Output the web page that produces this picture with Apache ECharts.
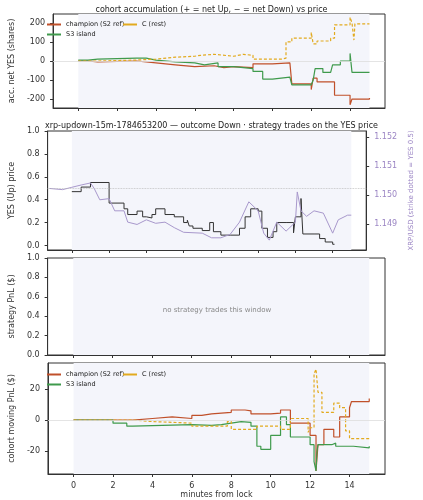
<!DOCTYPE html>
<html><head><meta charset="utf-8">
<script src="https://cdn.jsdelivr.net/npm/echarts@6/dist/echarts.min.js"></script>
<style>html,body{margin:0;background:#fff}#c{width:423px;height:500px}</style>
</head><body><div id="c"></div>
<script>
// panel 1: cumulative net YES shares [minute, shares]
const accChampion = [[0,0],[0.5,-5],[1,0],[3,-10],[4,-20],[5,-30],[6,-25],[7,-35],[7.5,-30],[8,-35],[9,-15],[10,-10],[10.9,-10],[11,-120],[12,-150],[12.1,-90],[12.3,-110],[13,-110],[13.2,-180],[14,-230],[14.1,-200],[15,-195]];
const accIsland = [[0,5],[0.5,10],[1,15],[3,15],[3.5,5],[4,-5],[5,-10],[6,-20],[6.5,-10],[7.2,-30],[8,-40],[9,-55],[9.5,-95],[10,-85],[10.9,-85],[11,-125],[12,-125],[12.1,-100],[12.2,-40],[12.6,-60],[13,-60],[13.1,-20],[13.5,0],[14,40],[14.1,-60],[15,-60]];
const accRest = [[0,0],[1,5],[3,10],[4,20],[5,25],[6,30],[6.3,35],[7,25],[8,35],[8.5,30],[9,10],[10,10],[10.5,15],[10.7,100],[11,120],[12,150],[12.1,90],[12.3,105],[13,120],[13.2,190],[14,230],[14.1,200],[14.2,110],[14.25,195],[15,195]];
// panel 2: YES (Up) price steps and XRP/USD
const yesPrice = [[0,0.47],[0.5,0.51],[1,0.55],[2,0.37],[2.8,0.32],[3,0.27],[3.5,0.30],[3.8,0.25],[4,0.24],[4.3,0.27],[4.5,0.32],[5,0.27],[5.5,0.25],[6,0.2],[6.2,0.22],[6.3,0.17],[6.5,0.15],[7,0.13],[7.4,0.2],[7.6,0.12],[8,0.09],[8.5,0.09],[9,0.15],[9.3,0.25],[9.6,0.32],[10,0.3],[10.2,0.15],[10.5,0.07],[10.8,0.12],[11,0.2],[11.5,0.2],[11.9,0.11],[12,0.25],[12.3,0.41],[12.4,0.1],[13,0.1],[13.3,0.06],[13.6,0.03],[14,0.01],[14.1,0.01]];
const xrpUsd = [[-1.2,1.15022],[-0.5,1.15018],[0,1.15026],[0.5,1.15034],[1,1.15041],[1.2,1.15022],[1.5,1.14983],[2,1.14987],[2.3,1.14945],[2.8,1.14945],[3,1.14906],[3.5,1.14898],[4,1.14914],[4.5,1.14902],[5,1.14906],[5.5,1.14887],[6,1.14871],[7,1.14868],[7.5,1.14852],[8,1.14852],[8.5,1.14864],[9,1.14906],[9.5,1.14976],[10,1.14945],[10.3,1.14868],[10.6,1.14844],[11,1.14906],[11.5,1.14875],[12,1.14906],[12.1,1.1501],[12.3,1.14945],[12.6,1.14926],[13,1.14945],[13.5,1.14937],[14,1.14868],[14.3,1.14914],[14.8,1.1493],[15,1.1493]];
// panel 4: moving PnL ($)
const pnlChampion = [[0,0],[2,0],[3,1],[4,2],[5,1],[6,3],[6.5,4],[7,4.5],[7.5,5],[8,6.5],[8.7,6],[9,4],[10,4.5],[10.5,6.5],[11,-2],[12,-10],[12.3,-33],[12.4,-16],[12.7,-6],[13.2,-11],[13.5,2],[14,8],[14.1,12],[15,14]];
const pnlIsland = [[0,0],[2,-2],[2.7,-4],[3,-3],[6,-3.5],[7,-3],[7.5,-2],[8,-1],[8.5,-1.5],[9,-4],[9.3,-17],[9.5,-19],[10,-10],[10.5,2],[10.8,-3],[11,-11],[12,-16],[12.2,-27],[12.3,-33],[12.35,-20],[12.4,-16],[13.1,-15],[13.3,-17],[14.2,-18],[15,-17]];
const pnlRest = [[0,0],[2,0],[3,-1],[4,-2],[6,-4],[7.8,-1],[8,-6],[9.3,-4],[10.5,-6],[11,1],[11.9,-8],[12,-5],[12.2,30],[12.3,33],[12.4,18],[12.6,5],[13.2,11],[13.5,8],[13.8,-7],[14,-12],[15,-13]];
const xTicks = [0,2,4,6,8,10,12,14];

const RED = '#c0502a', GREEN = '#3f9a4c', GOLD = '#e2aa1e', FONT = 'DejaVu Sans';
const yRanges = [[-247,247],[-0.04,1.0],[0,1],[-35,37]];
const grids = [
  {left:38, right:38, top:14, height:94},
  {left:38, right:38, top:131, height:119},
  {left:38, right:38, top:258, height:97},
  {left:38, right:38, top:363, height:111}
];
const xAxes = grids.map((g, i) => ({
  type:'value', gridIndex:i, min:-1.3, max:15.8,
  axisLine:{onZero:false, lineStyle:{color:'#333'}},
  axisTick:{customValues:xTicks, length:3},
  axisLabel:{show:i===3, customValues:xTicks, fontSize:8, color:'#333', fontFamily:FONT},
  splitLine:{show:false},
  name:i===3?'minutes from lock':'', nameLocation:'middle', nameGap:14,
  nameTextStyle:{fontSize:8, color:'#333', fontFamily:FONT}
}));
function yAx(i, min, max, ticks, name, extra) {
  return Object.assign({
    type:'value', gridIndex:i, min, max, name, nameLocation:'middle', nameGap:22,
    nameTextStyle:{fontSize:8, color:'#333', fontFamily:FONT},
    axisLine:{show:true, onZero:false, lineStyle:{color:'#333'}},
    axisTick:{show:true, customValues:ticks, length:3},
    axisLabel:{customValues:ticks, fontSize:8, color:'#333', fontFamily:FONT},
    splitLine:{show:false}
  }, extra || {});
}
const fr1 = {customValues:[0,0.2,0.4,0.6,0.8,1.0], fontSize:8, color:'#333', fontFamily:FONT, formatter:v=>v.toFixed(1)};
const yAxes = [
  yAx(0, -247, 247, [-200,-100,0,100,200], 'acc. net YES (shares)'),
  yAx(1, -0.04, 1.0, [0,0.2,0.4,0.6,0.8,1.0], 'YES (Up) price', {axisLabel:fr1}),
  yAx(1, 1.1481, 1.1522, [1.149,1.150,1.151,1.152], 'XRP/USD (strike dotted = YES 0.5)', {
    position:'right', nameGap:34, nameTextStyle:{fontSize:7, color:'#9b85c4', fontFamily:FONT},
    axisLabel:{customValues:[1.149,1.150,1.151,1.152], fontSize:8, color:'#9b85c4', fontFamily:FONT, formatter:v=>v.toFixed(3)}}),
  yAx(2, 0, 1, [0,0.2,0.4,0.6,0.8,1.0], 'strategy PnL ($)', {axisLabel:fr1}),
  yAx(3, -35, 37, [-20,0,20], 'cohort moving PnL ($)')
];
function line(name, data, x, y, color, dashed, extra) {
  return Object.assign({
    name, type:'line', step:'end', data, xAxisIndex:x, yAxisIndex:y, symbol:'none',
    lineStyle:{color, width:1.2, type:dashed?[3,2]:'solid'}, itemStyle:{color}
  }, extra || {});
}
const zero = (y, dotted) => ({silent:true, symbol:'none', label:{show:false}, lineStyle:{color:dotted?'#bbb':'#ddd', width:0.8, type:dotted?'dotted':'solid'}, data:[{yAxis:y}]});
const bg = (p) => ({silent:true, itemStyle:{color:'#f4f5fb'}, data:[[{xAxis:0, yAxis:yRanges[p][0]},{xAxis:15, yAxis:yRanges[p][1]}]]});
const legendText = {fontSize:6.5, fontFamily:FONT, color:'#222'};

const chart = echarts.init(document.getElementById('c'));
chart.setOption({
  animation:false,
  title:[
    {text:'cohort accumulation (+ = net Up, − = net Down) vs price', left:'center', top:1, textStyle:{fontSize:8, fontWeight:'normal', fontFamily:FONT, color:'#222'}},
    {text:'xrp-updown-15m-1784653200 — outcome Down · strategy trades on the YES price', left:'center', top:117, textStyle:{fontSize:8, fontWeight:'normal', fontFamily:FONT, color:'#222'}},
    {text:'no strategy trades this window', left:212, top:302, textAlign:'center', textStyle:{fontSize:7, fontWeight:'normal', fontFamily:FONT, color:'#888'}}
  ],
  legend:[
    {left:42, top:16, itemWidth:14, itemHeight:2, icon:'rect', data:['champion (S2 ref)'], textStyle:legendText},
    {left:118, top:16, itemWidth:14, itemHeight:2, icon:'rect', data:['C (rest)'], textStyle:legendText},
    {left:42, top:26, itemWidth:14, itemHeight:2, icon:'rect', data:['S3 island'], textStyle:legendText},
    {left:42, top:366, itemWidth:14, itemHeight:2, icon:'rect', data:['champion (S2 ref) '], textStyle:legendText},
    {left:118, top:366, itemWidth:14, itemHeight:2, icon:'rect', data:['C (rest) '], textStyle:legendText},
    {left:42, top:376, itemWidth:14, itemHeight:2, icon:'rect', data:['S3 island '], textStyle:legendText}
  ],
  grid:grids.map(g => Object.assign({show:true, borderColor:'#333', borderWidth:1, backgroundColor:'#fff'}, g)),
  xAxis:xAxes, yAxis:yAxes,
  series:[
    line('champion (S2 ref)', accChampion, 0, 0, RED, false, {markArea:bg(0), markLine:zero(0)}),
    line('S3 island', accIsland, 0, 0, GREEN),
    line('C (rest)', accRest, 0, 0, GOLD, true),
    line('yes', yesPrice, 1, 1, '#333', false, {lineStyle:{color:'#333', width:1}, markArea:bg(1), markLine:zero(0.5, true)}),
    {type:'line', data:xrpUsd, xAxisIndex:1, yAxisIndex:2, symbol:'none', lineStyle:{color:'#a898cc', width:1}},
    {type:'line', data:[], xAxisIndex:2, yAxisIndex:3, markArea:bg(2)},
    line('champion (S2 ref) ', pnlChampion, 3, 4, RED, false, {markArea:bg(3), markLine:zero(0)}),
    line('S3 island ', pnlIsland, 3, 4, GREEN),
    line('C (rest) ', pnlRest, 3, 4, GOLD, true)
  ]
});
</script></body></html>
